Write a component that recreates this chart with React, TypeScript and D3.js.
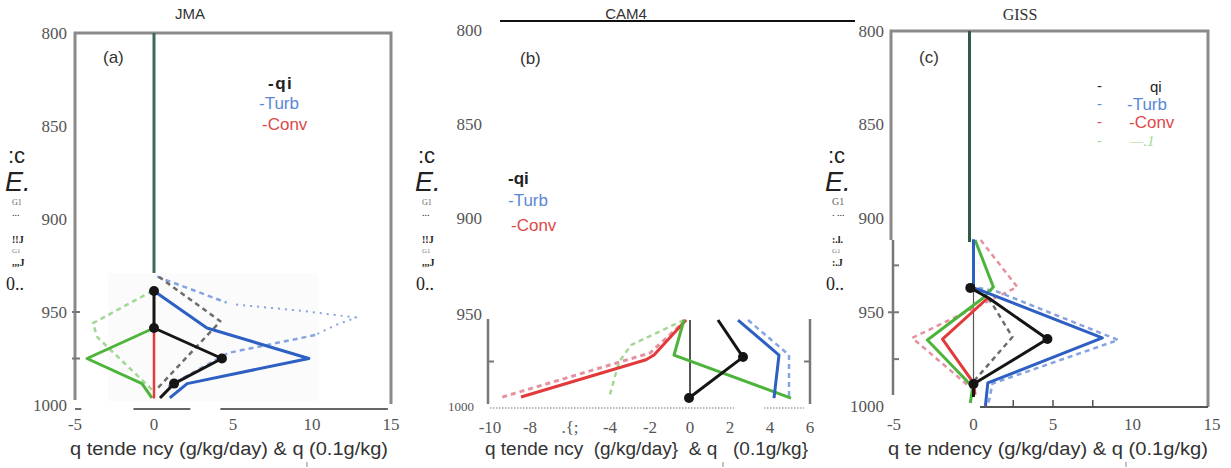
import React from 'react';
import * as d3 from 'd3';

const W = 1231;
const H = 468;

const panelTitles = ['JMA', 'CAM4', 'GISS'];
const panelLetters = ['(a)', '(b)', '(c)'];
const pressureTicks = [800, 850, 900, 950, 1000];
const jmaXTicks = [-5, 0, 5, 10, 15];
const camXTicks = [-10, -8, -6, -4, -2, 0, 2, 4, 6];
const camXTickLabels = ['-10', '-8', '.{;', '-4', '-2', '0', '2', '4', '6'];
const gissXTicks = [-5, 0, 5, 10, 15];

// points are [q value, pressure (hPa)]
const jmaQi = [[0, 938.7], [0, 958.6], [4.3, 975], [1.27, 988.5], [0.38, 996.2]];
const jmaQiDash = [[0.3, 931], [4.2, 955], [0.25, 990.8]];
const jmaTurb = [[0, 938.7], [3.35, 958.6], [9.8, 975], [2.1, 988.5], [1.0, 996.2]];
const jmaTurbDash = [[0.2, 931], [4.6, 945]];
const jmaTurbDots = [[5.2, 946], [9.5, 949.5], [12.8, 953], [11.5, 957], [10.2, 962.4]];
const jmaTurbDashLow = [[10.2, 962.4], [4.7, 972], [0.9, 990]];
const jmaConv = [[0, 958.6], [0, 996.5]];
const jmaGreen = [[0, 958.6], [-4.24, 975], [-0.76, 988.5], [-0.13, 996.2]];
const jmaGreenDash = [[-0.1, 938.7], [-3.86, 956], [-3.6, 963.4], [-0.1, 992]];
const jmaDots = [0, 1, 2, 3];

const camQi = [[1.4, 950.6], [2.65, 972.4], [-0.05, 996.5]];
const camTurb = [[2.4, 950.6], [4.45, 971.2], [4.2, 996.5]];
const camTurbDash = [[2.9, 950.6], [4.95, 971.2], [4.95, 996]];
const camConv = [[-0.2, 950.6], [-1.8, 971.2], [-2.2, 974], [-8.45, 995.9]];
const camConvDash = [[-0.2, 950.6], [-2.0, 970], [-9.55, 996.5]];
const camGreen = [[-0.3, 950.6], [-0.8, 971.2], [5.05, 996.5]];
const camGreenDash = [[-0.3, 950.6], [-2.95, 965.3], [-3.55, 975.3], [-4.05, 996.5]];
const camDots = [1, 2];

const gissQi = [[-0.2, 937], [0.95, 942.4], [4.65, 964.3], [0, 988.3], [0, 995.2]];
const gissQiDash = [[0.95, 942.4], [2.45, 963.2], [0, 987]];
const gissTurb = [[0, 911], [0, 937], [0.5, 938.5], [8.1, 963.7], [0.9, 987.7], [0.75, 1000]];
const gissTurbDash = [[0.3, 937], [1.5, 939], [9.1, 964.8], [1.2, 988], [0.9, 1000]];
const gissConv = [[0.9, 942.4], [-1.95, 964.3], [0, 987.7], [0.1, 994]];
const gissConvDash = [[0.45, 911.5], [2.75, 936.5], [1.2, 943], [-3.85, 963.7], [0, 991.5]];
const gissGreen = [[0.1, 911.5], [1.25, 936.5], [0.6, 942.4], [-2.9, 964.8], [-0.05, 989.9], [-0.2, 998.4]];
const gissDots = [0, 2, 3];

const C = {
  black: '#151515',
  blue: '#2e5fc2',
  red: '#e23a3a',
  green: '#4db43b',
  blueDash: '#86a3e2',
  redDash: '#e6919f',
  greenDash: '#a3d795',
  greyDash: '#6c6c6c',
  frame: '#8a8a8a',
  zero: '#3b6b5a',
  tick: '#555',
};

const serif = '"Liberation Serif", "Times New Roman", serif';
const sans = '"Liberation Sans", Arial, sans-serif';

function Lines({ x, y, series, dots }) {
  const line = d3.line().x((d) => x(d[0])).y((d) => y(d[1]));
  return (
    <g fill="none" strokeLinejoin="round">
      {series.map((s, i) => (
        <path key={i} d={line(s.pts)} stroke={s.color} strokeWidth={s.w || 3}
          strokeDasharray={s.dash || null} />
      ))}
      {dots.idx.map((k) => (
        <circle key={k} cx={x(dots.pts[k][0])} cy={y(dots.pts[k][1])} r={5} fill={C.black} />
      ))}
    </g>
  );
}

function GarbledYLabel({ x0, giss }) {
  return (
    <g fill="#222">
      <text x={x0 + 8} y={163} fontFamily={sans} fontSize={22}>:c</text>
      <text x={x0 + 5} y={191} fontFamily={sans} fontSize={27} fontStyle="italic">E.</text>
      <text x={x0 + 12} y={205} fontFamily={serif} fontSize={giss ? 10 : 8} fill="#666">G1</text>
      <text x={x0 + 12} y={216} fontFamily={serif} fontSize={10}>{giss ? '. ...' : '...'}</text>
      <text x={x0 + 12} y={243} fontFamily={serif} fontSize={10} fontWeight="bold">{giss ? ':.l.' : '!!J'}</text>
      <text x={x0 + 12} y={253} fontFamily={serif} fontSize={7} fill="#777">G1</text>
      <text x={x0 + 12} y={266} fontFamily={serif} fontSize={10} fontWeight="bold">{giss ? ':.J' : ',,,J'}</text>
      <text x={x0 + 6} y={290} fontFamily={serif} fontSize={18}>0..</text>
    </g>
  );
}

function XTitle({ x, len, text, sub }) {
  return (
    <g fill="#333" fontFamily={sans}>
      <text x={x} y={455} fontSize={18} textLength={len} lengthAdjust="spacingAndGlyphs"
        style={{ whiteSpace: 'pre' }}>{text}</text>
      <text x={sub} y={467} fontSize={8} fill="#555">l</text>
    </g>
  );
}

export default function App() {
  // panel (a)
  const xA = d3.scaleLinear().domain([-5, 15]).range([75, 391]);
  const yA = d3.scaleLinear().domain([800, 1000]).range([33, 405]);
  // panel (b)
  const xB = d3.scaleLinear().domain([-10, 6]).range([490, 810]);
  const yBLab = d3.scaleLinear().domain([800, 1000]).range([30, 406]);
  const yB = d3.scaleLinear().domain([950, 1000]).range([319, 404]);
  // panel (c)
  const xC = d3.scaleLinear().domain([-5, 15]).range([894, 1212]);
  const yC = d3.scaleLinear().domain([800, 1000]).range([31, 406]);

  const jmaSeries = [
    { pts: jmaGreenDash, color: C.greenDash, dash: '5,4', w: 2.5 },
    { pts: jmaTurbDash, color: C.blueDash, dash: '5,4', w: 2.5 },
    { pts: jmaTurbDots, color: C.blueDash, dash: '2,5', w: 2 },
    { pts: jmaTurbDashLow, color: C.blueDash, dash: '5,4', w: 2.5 },
    { pts: jmaQiDash, color: C.greyDash, dash: '5,4', w: 2.5 },
    { pts: jmaGreen, color: C.green },
    { pts: jmaTurb, color: C.blue },
    { pts: jmaConv, color: C.red, w: 2.5 },
    { pts: jmaQi, color: C.black },
  ];
  const camSeries = [
    { pts: camConvDash, color: C.redDash, dash: '5,4', w: 3 },
    { pts: camGreenDash, color: C.greenDash, dash: '5,4', w: 2.5 },
    { pts: camTurbDash, color: C.blueDash, dash: '5,4', w: 2.5 },
    { pts: camConv, color: C.red },
    { pts: camGreen, color: C.green },
    { pts: camTurb, color: C.blue },
    { pts: camQi, color: C.black },
  ];
  const gissSeries = [
    { pts: gissConvDash, color: C.redDash, dash: '5,4', w: 2.5 },
    { pts: gissTurbDash, color: C.blueDash, dash: '5,4', w: 2.5 },
    { pts: gissQiDash, color: C.greyDash, dash: '5,4', w: 2.5 },
    { pts: gissGreen, color: C.green },
    { pts: gissConv, color: C.red },
    { pts: gissTurb, color: C.blue },
    { pts: gissQi, color: C.black },
  ];

  return (
    <svg width={W} height={H} style={{ position: 'absolute', left: 0, top: 0, background: '#fff' }}>
      {/* titles */}
      <text x={190} y={19} textAnchor="middle" fontFamily={sans} fontSize={15} fill="#333">{panelTitles[0]}</text>
      <text x={626} y={19} textAnchor="middle" fontFamily={sans} fontSize={15} fill="#333">{panelTitles[1]}</text>
      <text x={1020} y={20} textAnchor="middle" fontFamily={serif} fontSize={16} fill="#333">{panelTitles[2]}</text>
      <line x1={500} x2={855} y1={21} y2={21} stroke="#111" strokeWidth={2} />

      <GarbledYLabel x0={0} />
      <GarbledYLabel x0={410} />
      <GarbledYLabel x0={820} giss />

      {/* ---------- panel (a) ---------- */}
      <rect x={108} y={273} width={210} height={128} fill="#fbfbfb" />
      <path d={`M${xA(-5)},400V${yA(800)}H${xA(15)}V404`} fill="none" stroke={C.frame} strokeWidth={3} />
      {[950, 975].map((p) => (
        <line key={p} x1={72} x2={80} y1={yA(p)} y2={yA(p)} stroke="#777" strokeWidth={2} />
      ))}
      {[[-5, -4.6], [-1.3, 2.3], [4.2, 14.8]].map((s, i) => (
        <line key={i} x1={xA(s[0])} x2={xA(s[1])} y1={409} y2={409} stroke="#333" strokeWidth={1.4} />
      ))}
      <line x1={xA(0)} x2={xA(0)} y1={yA(800)} y2={yA(929)} stroke={C.zero} strokeWidth={3} />
      <Lines x={xA} y={yA} series={jmaSeries} dots={{ pts: jmaQi, idx: jmaDots }} />
      <g fontFamily={serif} fontSize={17} fill={C.tick}>
        {pressureTicks.map((p) => (
          <text key={p} x={67} y={yA(p)} textAnchor="end" dominantBaseline="central">{p}</text>
        ))}
        {jmaXTicks.map((v) => (
          <text key={v} x={xA(v)} y={424} textAnchor="middle" dominantBaseline="central">{v}</text>
        ))}
      </g>
      <text x={103} y={63} fontFamily={sans} fontSize={17} fill="#333">{panelLetters[0]}</text>
      <g fontFamily={sans} fontSize={17}>
        <text x={268} y={89} fill="#222" fontWeight="bold" letterSpacing={1.5}>-qi</text>
        <text x={259} y={109} fill="#5b87d6">-Turb</text>
        <text x={262} y={130} fill="#e04848">-Conv</text>
      </g>
      <XTitle x={70} len={318} text="q tende ncy (g/kg/day) &amp; q (0.1g/kg)" sub={306} />

      {/* ---------- panel (b) ---------- */}
      <line x1={488} x2={488} y1={319} y2={404} stroke="#777" strokeWidth={2.5} />
      <line x1={488} x2={494} y1={yB(975)} y2={yB(975)} stroke="#777" strokeWidth={2} />
      <line x1={810} x2={810} y1={319} y2={404} stroke="#777" strokeWidth={2.5} />
      <line x1={804} x2={810} y1={yB(975)} y2={yB(975)} stroke="#777" strokeWidth={2} />
      <line x1={xB(0)} x2={xB(0)} y1={320} y2={398} stroke="#555" strokeWidth={2} />
      {[[-10, 2.2], [3.7, 5.7]].map((s, i) => (
        <line key={i} x1={xB(s[0])} x2={xB(s[1])} y1={408} y2={408} stroke="#777" strokeWidth={1.2} strokeDasharray="1.5,1.5" />
      ))}
      <Lines x={xB} y={yB} series={camSeries} dots={{ pts: camQi, idx: camDots }} />
      <g fontFamily={serif} fontSize={17} fill={C.tick}>
        {pressureTicks.map((p) => (
          <text key={p} x={p === 1000 ? 474 : 482} y={p === 950 ? 314 : yBLab(p)} textAnchor="end"
            dominantBaseline="central" fontSize={p === 1000 ? 13 : 17}>{p}</text>
        ))}
        {camXTicks.map((v, i) => (
          <text key={v} x={xB(v)} y={427} textAnchor="middle" dominantBaseline="central">{camXTickLabels[i]}</text>
        ))}
      </g>
      <text x={520} y={64} fontFamily={sans} fontSize={17} fill="#333">{panelLetters[1]}</text>
      <g fontFamily={sans} fontSize={17}>
        <text x={508} y={184} fill="#222" fontWeight="bold">-qi</text>
        <text x={508} y={206} fill="#5b87d6">-Turb</text>
        <text x={511} y={231} fill="#e04848">-Conv</text>
      </g>
      <XTitle x={485} len={323} text="q tende ncy  (g/kg/day}  &amp; q   (0.1g/kg}" sub={722} />

      {/* ---------- panel (c) ---------- */}
      <path d={`M891,240V${yC(800)}H1208V407`} fill="none" stroke={C.frame} strokeWidth={3} />
      <line x1={980} x2={1208} y1={407} y2={407} stroke="#555" strokeWidth={2} />
      <line x1={893} x2={893} y1={240} y2={395} stroke="#777" strokeWidth={2.5} />
      {[925, 950, 975].map((p) => (
        <line key={p} x1={p === 950 ? 888 : 893} x2={899} y1={yC(p)} y2={yC(p)} stroke="#777" strokeWidth={2} />
      ))}
      {[2.5, 5, 7.5].map((v) => (
        <line key={v} x1={xC(v)} x2={xC(v)} y1={400} y2={407} stroke="#555" strokeWidth={1.5} />
      ))}
      <line x1={xC(0) - 4} x2={xC(0) - 4} y1={yC(800)} y2={242} stroke="#2f5a46" strokeWidth={3} />
      <line x1={xC(0)} x2={xC(0)} y1={242} y2={393} stroke="#555" strokeWidth={1.2} />
      <Lines x={xC} y={yC} series={gissSeries} dots={{ pts: gissQi, idx: gissDots }} />
      <g fontFamily={serif} fontSize={17} fill={C.tick}>
        {pressureTicks.map((p) => (
          <text key={p} x={884} y={yC(p)} textAnchor="end" dominantBaseline="central">{p}</text>
        ))}
        {gissXTicks.map((v) => (
          <text key={v} x={xC(v)} y={424} textAnchor="middle" dominantBaseline="central">{v}</text>
        ))}
      </g>
      <text x={919} y={63} fontFamily={sans} fontSize={17} fill="#333">{panelLetters[2]}</text>
      <g fontFamily={sans} fontSize={15}>
        <text x={1097} y={91} fill="#222">-</text>
        <text x={1150} y={92} fill="#222">qi</text>
        <text x={1097} y={109} fill="#5b87d6">-</text>
        <text x={1127} y={110} fill="#5b87d6" fontSize={17}>-Turb</text>
        <text x={1097} y={127} fill="#e04848">-</text>
        <text x={1129} y={128} fill="#e04848" fontSize={17}>-Conv</text>
        <text x={1097} y={146} fill="#a3d795">-</text>
        <text x={1130} y={146} fill="#a3d795" fontStyle="italic" fontFamily={serif}>—.1</text>
      </g>
      <XTitle x={888} len={320} text="q te ndency (g/kg/day) &amp; q (0.1g/kg)" sub={1125} />
    </svg>
  );
}
